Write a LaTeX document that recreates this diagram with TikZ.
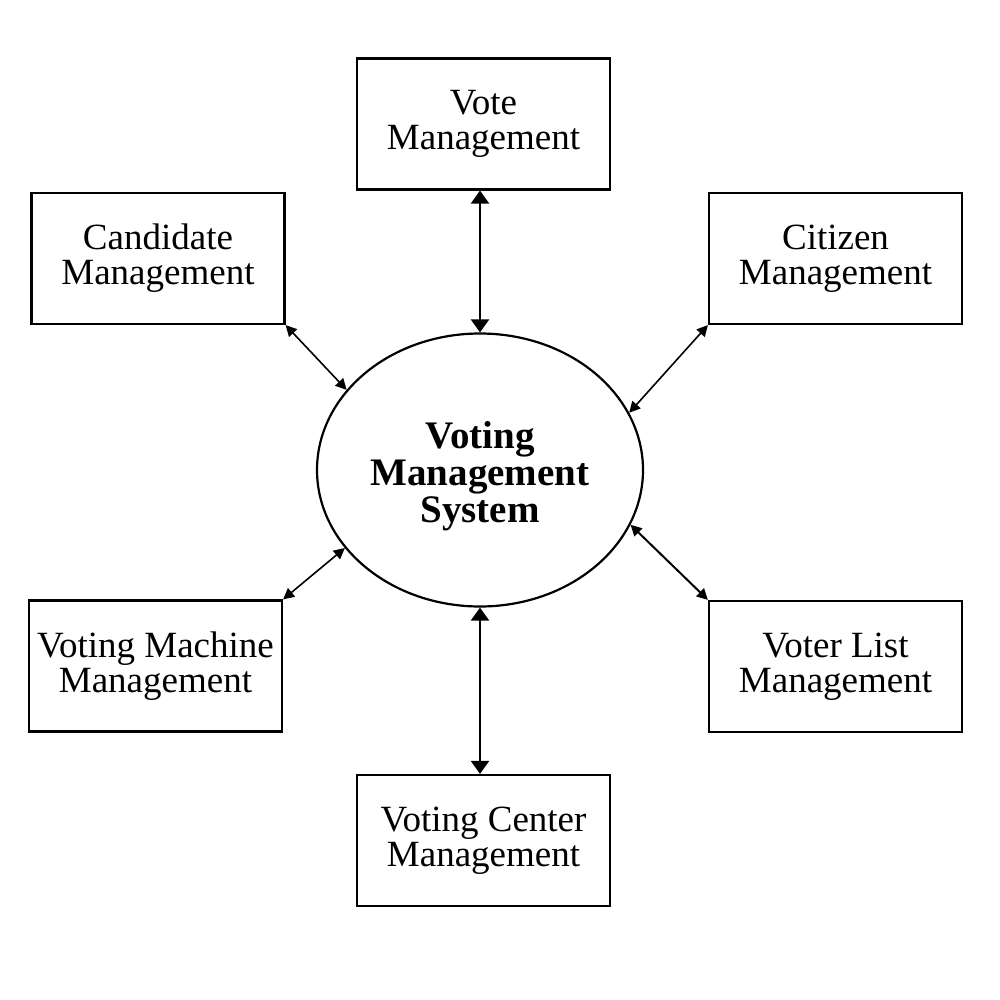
\documentclass[tikz,border=0pt]{standalone}
\usepackage{fontspec}
\setmainfont{Liberation Serif}
\usepackage{tikz}
\usetikzlibrary{arrows.meta,shapes.geometric}

\tikzset{
  module/.style={draw, line width=1.1pt, minimum width=126.5pt, minimum height=65.5pt,
    align=center, inner sep=0pt, font=\fontsize{18.5}{17.5}\selectfont},
  link/.style={line width=0.8pt, {Triangle[length=5.5pt,width=5.5pt]}-{Triangle[length=5.5pt,width=5.5pt]}},
  biglink/.style={line width=1.1pt, {Triangle[length=6.5pt,width=9pt]}-{Triangle[length=6.5pt,width=9pt]}}
}

\begin{document}
\begin{tikzpicture}[x=0.5pt, y=-0.5pt]
  \useasboundingbox (0,0) rectangle (1000,1000);
  \node[draw, ellipse, line width=1.1pt, minimum width=163pt, minimum height=136.5pt,
    inner sep=0pt, font=\fontsize{19.5}{18.5}\selectfont\bfseries] (sys) at (480,470)
    {\begin{tabular}{@{}c@{}}\rule{0pt}{21pt}Voting\\Management\\System\end{tabular}};
  \node[module] (vote) at (483.5,124) {Vote\\Management};
  \node[module] (cand) at (158,258.5) {Candidate\\Management};
  \node[module] (citi) at (835.5,258.5) {Citizen\\Management};
  \node[module] (mach) at (155.5,666) {Voting Machine\\Management};
  \node[module] (vlist) at (835.5,666.5) {Voter List\\Management};
  \node[module] (cent) at (483.5,840.5) {Voting Center\\Management};
  % connectors
  \draw[biglink] (vote.south -| sys) -- (sys.north);
  \draw[biglink] (sys.south) -- (cent.north -| sys);
  \draw[link] (cand.south east) -- (sys.149);
  \draw[link] (citi.south west) -- (sys.21.7);
  \draw[link] (mach.north east) -- (sys.210);
  \draw[link, line width=1pt] (vlist.north west) -- (sys.340);
\end{tikzpicture}
\end{document}
